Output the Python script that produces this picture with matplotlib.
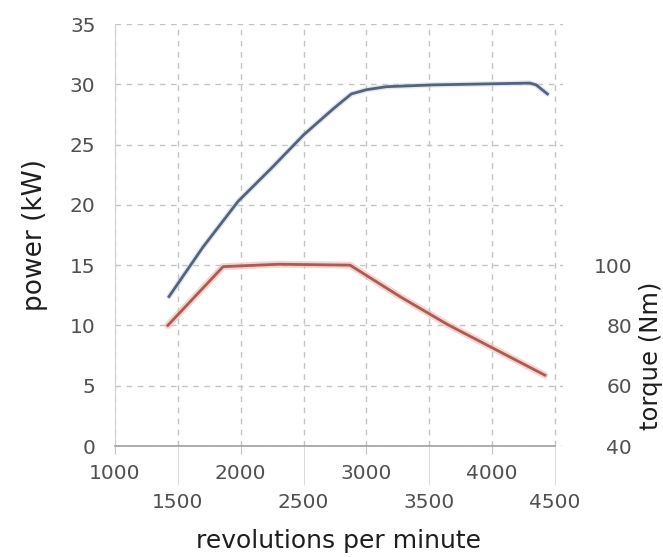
import matplotlib.pyplot as plt

# power curve (kW) vs engine speed
power_rpm = [1430, 1700, 1980, 2250, 2500, 2740, 2880, 3000, 3160, 3530, 4300, 4350, 4440]
power_kw = [12.4, 16.5, 20.3, 23.1, 25.8, 28.0, 29.2, 29.55, 29.8, 29.95, 30.1, 29.95, 29.2]

# torque curve (Nm) vs engine speed
torque_rpm = [1420, 1860, 2300, 2870, 3270, 3650, 4420]
torque_nm = [80, 99.5, 100.3, 100, 89.5, 80.2, 63.5]

major_x = [1000, 2000, 3000, 4000]
minor_x = [1500, 2500, 3500, 4500]
power_ticks = [0, 5, 10, 15, 20, 25, 30, 35]
torque_ticks = [40, 60, 80, 100]

plt.rcParams['font.family'] = ['DejaVu Sans']
W, H = 663, 557
fig = plt.figure(figsize=(W / 100, H / 100), dpi=100)
ax = fig.add_axes([115 / W, 1 - 446 / H, 447.5 / W, 422 / H])

ax.set_xlim(1000, 4560)
ax.set_ylim(0, 35)
ax.set_xticks(major_x)
ax.set_xticks(minor_x, minor=True)
ax.set_xticklabels([str(v) for v in major_x])
ax.set_xticklabels([str(v) for v in minor_x], minor=True)
ax.set_yticks(power_ticks)

grid = dict(color='#c4c4c4', linestyle=(0, (4, 4)), linewidth=1.0)
ax.grid(True, which='both', **grid)
ax.set_axisbelow(True)

for s in ['top', 'right']:
    ax.spines[s].set_visible(False)
ax.spines['left'].set_color('#d0d0d0')
ax.spines['bottom'].set_color('#a0a0a0')
ax.spines['bottom'].set_linewidth(1.2)
ax.spines['bottom'].set_bounds(1000, 4500)

ax.tick_params(axis='y', length=0, pad=14, labelsize=14.5, labelcolor='#505050')
ax.tick_params(axis='x', which='major', length=6, color='#c4c4c4', pad=7,
               labelsize=14.5, labelcolor='#505050')
ax.tick_params(axis='x', which='minor', length=28, color='#d4d4d4', pad=6,
               labelsize=14.5, labelcolor='#505050')

ax.plot(power_rpm, power_kw, color='#c8d4e8', linewidth=4, alpha=0.5, solid_capstyle='round')
ax.plot(power_rpm, power_kw, color='#54627a', linewidth=2)

ax.set_xlabel('revolutions per minute', fontsize=18, color='#1e1e1e', labelpad=12)
ax.set_ylabel('power (kW)', fontsize=19, color='#1e1e1e', labelpad=16)

ax2 = ax.twinx()
ax2.set_ylim(40, 180)
ax2.set_yticks(torque_ticks)
for s in ['top', 'right', 'left', 'bottom']:
    ax2.spines[s].set_visible(False)
ax2.tick_params(axis='y', length=0, pad=50, labelsize=14.5, labelcolor='#505050')
for lbl in ax2.get_yticklabels():
    lbl.set_horizontalalignment('right')

ax2.plot(torque_rpm, torque_nm, color='#f4b8b0', linewidth=5, alpha=0.6, solid_capstyle='round')
ax2.plot(torque_rpm, torque_nm, color='#a85c55', linewidth=2)

fig.text(651 / W, 1 - 356 / H, 'torque (Nm)', rotation=90, fontsize=17.5,
         color='#1e1e1e', ha='center', va='center')

fig.savefig('out.png', dpi=100, facecolor='white')
